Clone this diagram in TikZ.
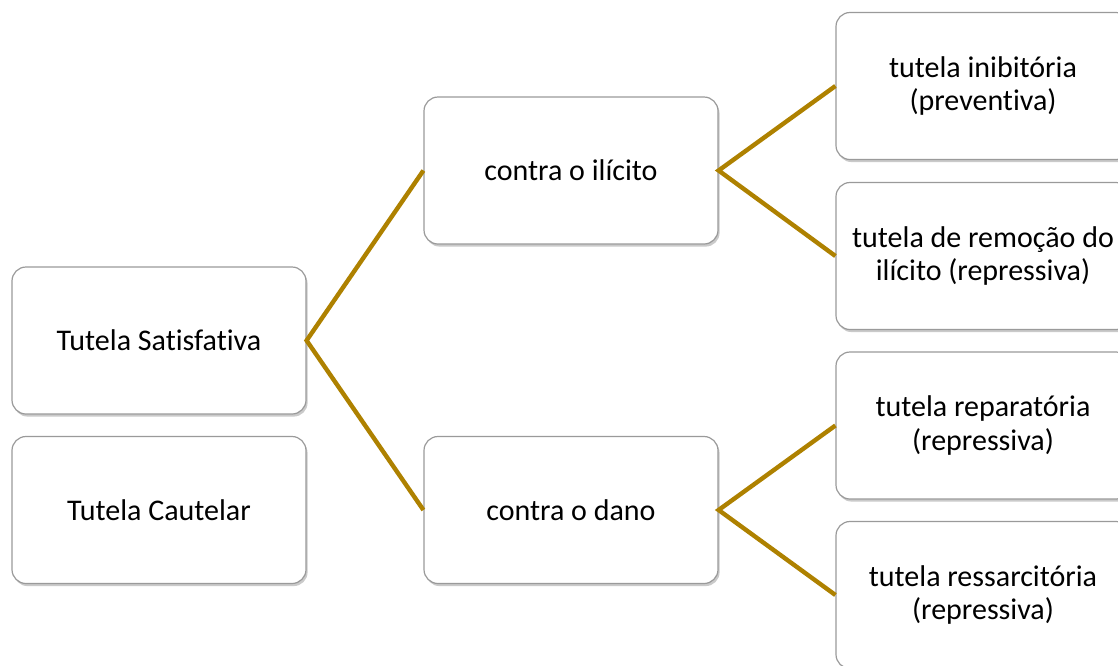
\documentclass[tikz,border=0pt]{standalone}
\usepackage{fontspec}
\setmainfont{Carlito}[RawFeature={-liga;-clig;-calt;-dlig}]
\usetikzlibrary{shadows}
\definecolor{ouro}{HTML}{AE8100}
\definecolor{borda}{HTML}{9A9A9A}
\tikzset{
	caixa/.style={draw=borda,line width=0.6pt,rounded corners=7pt,fill=white,
		minimum width=147pt,minimum height=73.5pt,align=center,
		font=\fontsize{15}{16.8}\selectfont,
		drop shadow={shadow xshift=0.8pt,shadow yshift=-1.3pt,opacity=0.35,fill=black!60}},
	ramo/.style={ouro,line width=2.2pt}
}
\begin{document}
\begin{tikzpicture}[x=0.5pt,y=-0.5pt]
	\useasboundingbox (0,0) rectangle (1118,665);
	\node[caixa] (satisf) at (159,340.5) {Tutela Satisfativa};
	\node[caixa] (cautel) at (159,510) {Tutela Cautelar};
	\node[caixa] (ilicito) at (571,170.5) {contra o ilícito};
	\node[caixa] (dano) at (571,510) {contra o dano};
	\node[caixa] (inib) at (983,86) {tutela inibitória\\(preventiva)};
	\node[caixa] (remoc) at (983,256) {tutela de remoção do\\ilícito (repressiva)};
	\node[caixa] (repar) at (983,425.5) {tutela reparatória\\(repressiva)};
	\node[caixa] (ressarc) at (983,595) {tutela ressarcitória\\(repressiva)};
	\draw[ramo] (ilicito.west)--(satisf.east)--(dano.west);
	\draw[ramo] (inib.west)--(ilicito.east)--(remoc.west);
	\draw[ramo] (repar.west)--(dano.east)--(ressarc.west);
\end{tikzpicture}
\end{document}
